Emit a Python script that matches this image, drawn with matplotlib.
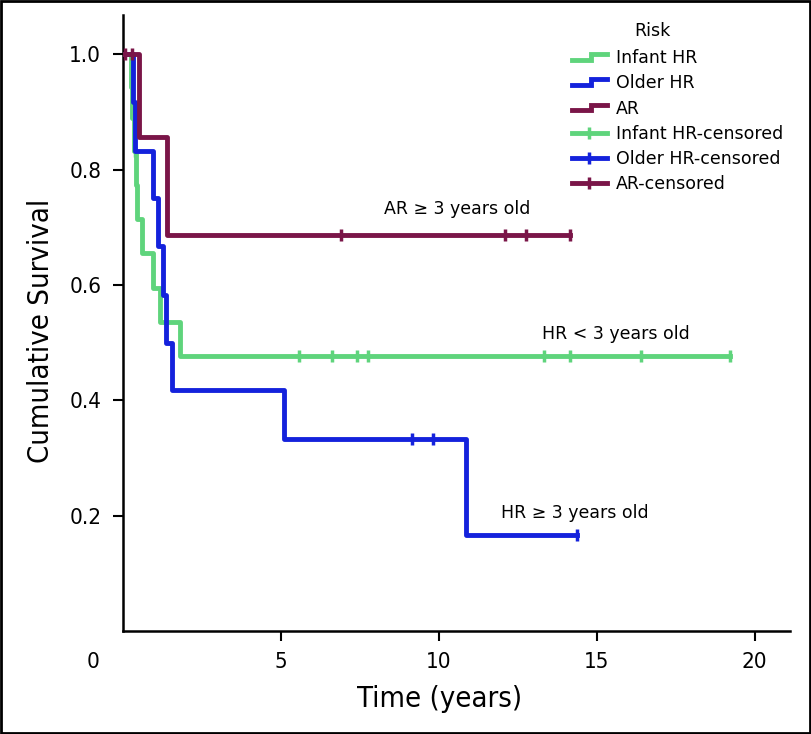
import matplotlib
matplotlib.use("Agg")
import matplotlib.pyplot as plt
from matplotlib.lines import Line2D
from matplotlib.legend_handler import HandlerBase
from matplotlib.patches import Rectangle
from matplotlib.transforms import ScaledTranslation

# ---------------- data ----------------
infant_t = [0, 0.25, 0.30, 0.35, 0.42, 0.45, 0.60, 0.96, 1.18, 1.81, 19.22]
infant_s = [1.0, 0.944, 0.889, 0.833, 0.774, 0.714, 0.655, 0.595, 0.536, 0.476, 0.476]
infant_cens_t = [0.39, 5.58, 6.62, 7.41, 7.76, 13.33, 14.16, 16.40, 19.22]
infant_cens_s = [0.833, 0.476, 0.476, 0.476, 0.476, 0.476, 0.476, 0.476, 0.476]

older_t = [0, 0.33, 0.40, 0.96, 1.12, 1.27, 1.37, 1.55, 5.10, 10.86, 14.38]
older_s = [1.0, 0.917, 0.833, 0.750, 0.667, 0.583, 0.500, 0.417, 0.333, 0.167, 0.167]
older_cens_t = [9.15, 9.81, 14.38]
older_cens_s = [0.333, 0.333, 0.167]

ar_t = [0, 0.50, 1.39, 14.16]
ar_s = [1.0, 0.857, 0.686, 0.686]
ar_cens_t = [0.08, 0.30, 6.91, 12.10, 12.75, 14.16]
ar_cens_s = [1.0, 1.0, 0.686, 0.686, 0.686, 0.686]

legend_labels = ["Infant HR", "Older HR", "AR",
                 "Infant HR-censored", "Older HR-censored", "AR-censored"]
x_ticks = [0, 5, 10, 15, 20]
y_ticks = [0.2, 0.4, 0.6, 0.8, 1.0]

c_green = "#5fd47c"
c_blue = "#1422dc"
c_maroon = "#7a1548"

plain_font = ["DejaVu Sans"]
cond_kw = dict(family=["DejaVu Sans"], stretch="condensed")

# ---------------- figure ----------------
W, H = 812, 734
fig = plt.figure(figsize=(W / 100, H / 100), dpi=100)
ax_left, ax_bottom = 122.7 / W, (H - 630.8) / H
ax_right, ax_top = 790 / W, (H - 15) / H
ax = fig.add_axes([ax_left, ax_bottom, ax_right - ax_left, ax_top - ax_bottom])

lw = 3.5
ax.step(infant_t, infant_s, where="post", color=c_green, lw=lw, zorder=2)
ax.step(older_t, older_s, where="post", color=c_blue, lw=lw, zorder=3)
ax.step(ar_t, ar_s, where="post", color=c_maroon, lw=lw, zorder=4)
ax.plot(infant_cens_t, infant_cens_s, ls="none", marker="|", ms=9, mew=2.5,
        color=c_green, zorder=2)
ax.plot(older_cens_t, older_cens_s, ls="none", marker="|", ms=9, mew=2.5,
        color=c_blue, zorder=3)
ax.plot(ar_cens_t, ar_cens_s, ls="none", marker="|", ms=9, mew=2.5,
        color=c_maroon, zorder=4)

ax.set_xlim(0, (790 - 122.7) / 31.6)
ax.set_ylim(0, (630.8 - 15) / 576.5)
ax.set_xticks(x_ticks)
ax.set_xticklabels([str(v) for v in x_ticks], fontsize=16, **cond_kw)
ax.set_yticks(y_ticks)
ax.set_yticklabels([f"{v:.1f}" for v in y_ticks], fontsize=16, **cond_kw)
ax.tick_params(direction="out", length=7.5, width=1.5, pad=8)
for side in ["top", "right"]:
    ax.spines[side].set_visible(False)
for side in ["left", "bottom"]:
    ax.spines[side].set_linewidth(1.8)

xt = ax.xaxis.get_major_ticks()
xt[0].tick1line.set_visible(False)
lab0 = xt[0].label1
lab0.set_transform(lab0.get_transform() + ScaledTranslation(-0.30, 0, fig.dpi_scale_trans))

xl = ax.set_xlabel("Time (years)", fontsize=21, **cond_kw)
yl = ax.set_ylabel("Cumulative Survival", fontsize=21, **cond_kw)
ax.xaxis.set_label_coords((440 - 122.7) / 667.3, (630.8 - 699) / 615.8)
ax.yaxis.set_label_coords((41 - 122.7) / 667.3, (630.8 - 331) / 615.8)
xl.set_va("center")
yl.set_va("center")

ax.text(10.6, 0.732, "AR \u2265 3 years old", family=plain_font, fontsize=12.5,
        ha="center", va="center")
ax.text(15.6, 0.515, "HR < 3 years old", family=plain_font, fontsize=12.5,
        ha="center", va="center")
ax.text(14.3, 0.204, "HR \u2265 3 years old", family=plain_font, fontsize=12.5,
        ha="center", va="center")


class StepHandler(HandlerBase):
    def create_artists(self, legend, orig_handle, xdescent, ydescent,
                       width, height, fontsize, trans):
        x0 = -xdescent
        x1 = x0 + width
        xm = x0 + width * 0.55
        yc = -ydescent + height / 2
        ylo, yhi = yc - 2.0, yc + 2.0
        ln = Line2D([x0, xm, xm, x1], [ylo, ylo, yhi, yhi],
                    color=orig_handle.get_color(), lw=orig_handle.get_linewidth(),
                    solid_joinstyle="miter")
        ln.set_transform(trans)
        return [ln]


step_handles = [Line2D([], [], color=c, lw=lw) for c in (c_green, c_blue, c_maroon)]
cens_handles = [Line2D([], [], color=c, lw=lw, marker="|", ms=9, mew=2.5)
                for c in (c_green, c_blue, c_maroon)]
handler_map = {h: StepHandler() for h in step_handles}
leg = fig.legend(step_handles + cens_handles, legend_labels,
                 handler_map=handler_map, loc="upper left",
                 bbox_to_anchor=(572 / W, 1 - 49 / H), bbox_transform=fig.transFigure,
                 frameon=False, borderpad=0, borderaxespad=0, numpoints=1,
                 handlelength=2.0, handletextpad=0.55, labelspacing=0.42,
                 prop={"family": plain_font, "size": 12.5})
fig.text(652 / W, 1 - 31 / H, "Risk", family=plain_font, fontsize=12.5,
         ha="center", va="center")

fig.patches.append(Rectangle((0.001, 0.001), 0.997, 0.997, transform=fig.transFigure,
                             fill=False, lw=2.0, ec="black"))

fig.savefig("out.png", dpi=100)
